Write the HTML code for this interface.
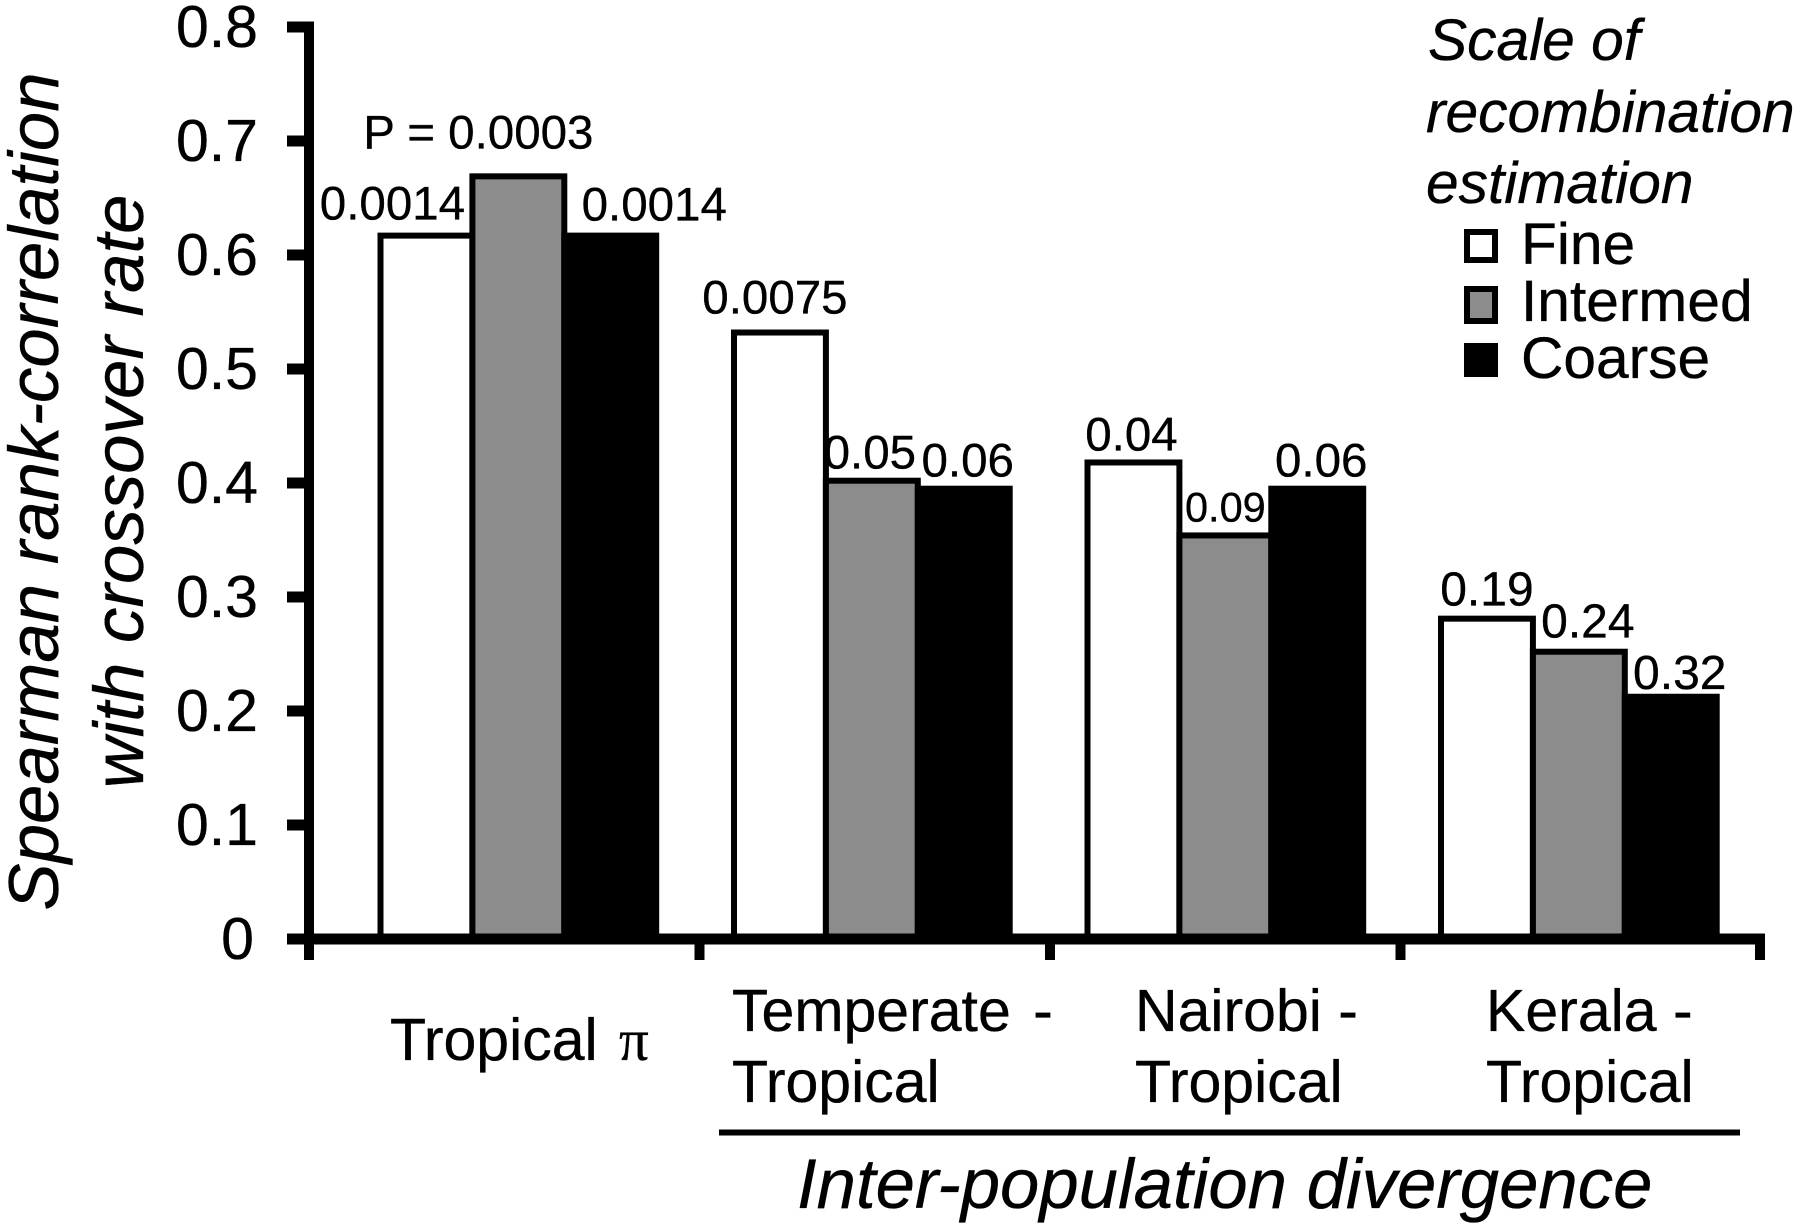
<!DOCTYPE html>
<html lang="en">
<head>
<meta charset="utf-8">
<title>Spearman rank-correlation with crossover rate</title>
<style>
html,body{margin:0;padding:0;background:#fff;}
svg{display:block;font-family:"Liberation Sans",Arial,sans-serif;fill:#000;}
text{stroke:#000;stroke-width:.35px;}
</style>
</head>
<body>
<svg id="chart" xmlns="http://www.w3.org/2000/svg" width="1800" height="1229" viewBox="0 0 1800 1229">
  <rect x="0" y="0" width="1800" height="1229" fill="#fff"/>
  <g font-style="italic" font-size="70.8" text-anchor="middle">
    <text transform="translate(58 491.5) rotate(-90)">Spearman rank-correlation</text>
    <text transform="translate(143 491.5) rotate(-90)">with crossover rate</text>
  </g>
  <g id="bars"></g>
  <g id="axes"></g>
  <g id="annotations"></g>
  <g font-size="59">
    <text x="390" y="1060" word-spacing="5">Tropical <tspan font-family="'Liberation Serif',serif">π</tspan></text>
    <text x="732" y="1031" word-spacing="6">Temperate -</text>
    <text x="732" y="1102">Tropical</text>
    <text x="1135" y="1031">Nairobi -</text>
    <text x="1135" y="1102">Tropical</text>
    <text x="1486" y="1031">Kerala -</text>
    <text x="1486" y="1102">Tropical</text>
  </g>
  <rect x="719" y="1129.5" width="1021" height="6"/>
  <text x="797" y="1208" font-size="70.7" font-style="italic">Inter-population divergence</text>
  <g id="legend">
    <g font-size="58.7" font-style="italic">
      <text x="1428" y="60">Scale of</text>
      <text x="1426" y="132">recombination</text>
      <text x="1426" y="203">estimation</text>
    </g>
  </g>
</svg>
<script>
// ---- chart data ----
const categories = ["Tropical π", "Temperate - Tropical", "Nairobi - Tropical", "Kerala - Tropical"];
const seriesNames = ["Fine", "Intermed", "Coarse"];
const fineValues = [0.617, 0.532, 0.418, 0.281];
const intermedValues = [0.669, 0.402, 0.354, 0.252];
const coarseValues = [0.617, 0.395, 0.395, 0.2125];
const fineLabels = ["0.0014", "0.0075", "0.04", "0.19"];
const intermedLabels = ["P = 0.0003", "0.05", "0.09", "0.24"];
const coarseLabels = ["0.0014", "0.06", "0.06", "0.32"];
const yTickLabels = ["0", "0.1", "0.2", "0.3", "0.4", "0.5", "0.6", "0.7", "0.8"];
const yTickValues = [0, 0.1, 0.2, 0.3, 0.4, 0.5, 0.6, 0.7, 0.8];

// ---- layout ----
const NS = "http://www.w3.org/2000/svg";
const STROKE = 6;
const plot = { left: 309, right: 1760, baseline: 939, unit: 1140 };
const band = { start: 380.5, step: 353.5, bar: 91.9 };
const fills = ["#ffffff", "#8c8c8c", "#000000"];
const allValues = [fineValues, intermedValues, coarseValues];
const allLabels = [fineLabels, intermedLabels, coarseLabels];
// Hand-placement of annotations relative to each bar's centre and top.
const labelPlacement = {
  "0-0": { dx: -34, dy: -16, size: 47.5 },
  "1-0": { dx: -40, dy: -28, size: 47.5 },
  "2-0": { dx: 44, dy: -15, size: 47.5 },
  "0-1": { dx: -5, dy: -19, size: 47.5 },
  "1-1": { dx: -2, dy: -12, size: 47.5 },
  "2-1": { dx: 4, dy: -12, size: 47.5 },
  "0-2": { dx: -2, dy: -12, size: 47.5 },
  "1-2": { dx: 0, dy: -14, size: 41.5 },
  "2-2": { dx: 4, dy: -12, size: 47.5 },
  "0-3": { dx: 0, dy: -13, size: 48 },
  "1-3": { dx: 9, dy: -14, size: 48 },
  "2-3": { dx: 9, dy: -8, size: 48 }
};

function y(v) { return plot.baseline - plot.unit * v; }
function barLeft(g, s) { return band.start + g * band.step + s * band.bar; }
function groupTick(i) {
  if (i === 0) return plot.left;
  if (i === categories.length) return plot.right;
  return 349 + i * 350.5;
}
function make(tag, attrs, parent) {
  const node = document.createElementNS(NS, tag);
  for (const k in attrs) node.setAttribute(k, attrs[k]);
  parent.appendChild(node);
  return node;
}

const barsG = document.getElementById("bars");
const axesG = document.getElementById("axes");
const annG = document.getElementById("annotations");
const legendG = document.getElementById("legend");

// bars
seriesNames.forEach(function (name, s) {
  categories.forEach(function (cat, g) {
    const top = y(allValues[s][g]);
    const bar = make("rect", { x: barLeft(g, s), y: top, width: band.bar, height: plot.baseline - top, fill: fills[s], stroke: "#000", "stroke-width": STROKE, "stroke-linejoin": "miter" }, barsG);
    
    
  });
});

// y axis
const yLine = make("rect", { x: plot.left - 5, y: 21.5, width: 10, height: 960 - 21.5 }, axesG);


yTickValues.forEach(function (v, i) {
  const tick = make("rect", { x: 287, y: y(v) - 5.5, width: 18, height: 11 }, axesG);
  
  
  const label = make("text", { x: i === 0 ? 254 : 258, y: y(v) + 20, "font-size": 59, "text-anchor": "end" }, axesG);
  label.textContent = yTickLabels[i];
  
  
});

// x axis
const xLine = make("rect", { x: 287, y: plot.baseline - 5.5, width: 1765 - 287, height: 11 }, axesG);


for (let i = 0; i <= categories.length; i++) {
  const t = make("rect", { x: groupTick(i) - 5, y: plot.baseline, width: 10, height: 21 }, axesG);
  
  
}

// annotations
seriesNames.forEach(function (name, s) {
  categories.forEach(function (cat, g) {
    const p = labelPlacement[s + "-" + g];
    const text = make("text", { x: barLeft(g, s) + band.bar / 2 + p.dx, y: y(allValues[s][g]) + p.dy, "font-size": p.size, "text-anchor": "middle" }, annG);
    text.textContent = allLabels[s][g];
    
    
  });
});

// legend entries
seriesNames.forEach(function (name, s) {
  const entryTop = 232 + s * 57;
  const swatch = make("rect", { x: 1467, y: entryTop, width: 28, height: s === 1 ? 32 : 28, fill: fills[s], stroke: "#000", "stroke-width": STROKE }, legendG);
  
  
  const label = make("text", { x: 1521, y: 264 + s * 57, "font-size": 58.7 }, legendG);
  label.textContent = name;
  
  
});
</script>
</body>
</html>
